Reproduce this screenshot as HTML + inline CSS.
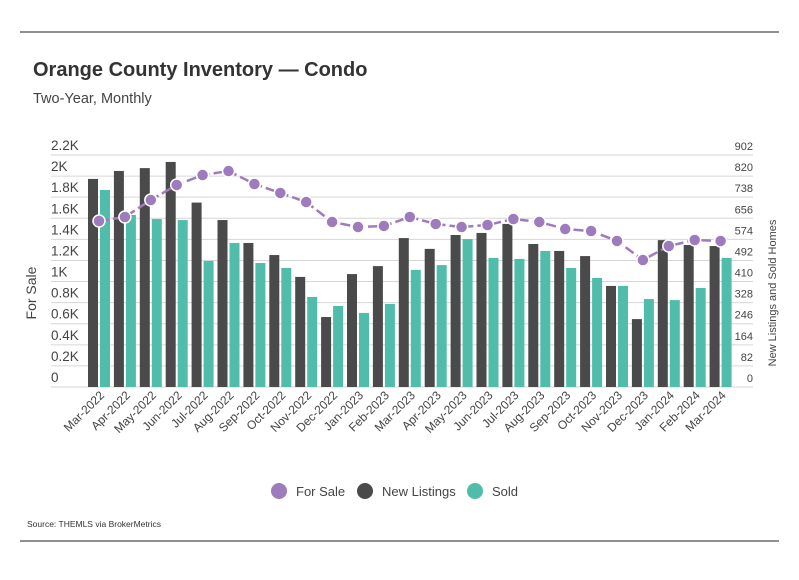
<!DOCTYPE html>
<html><head><meta charset="utf-8"><style>
body{margin:0;background:#fff;font-family:"Liberation Sans",sans-serif;}
svg text{font-family:"Liberation Sans",sans-serif;}
</style></head><body>
<svg width="799" height="575" xmlns="http://www.w3.org/2000/svg" id="chart">
<line x1="20" y1="32" x2="779" y2="32" stroke="#222" stroke-width="1"/>
<line x1="20" y1="541" x2="779" y2="541" stroke="#222" stroke-width="1"/>
<text x="33" y="76" font-size="20" font-weight="bold" fill="#333">Orange County Inventory — Condo</text>
<text x="33" y="103" font-size="14.5" fill="#444">Two-Year, Monthly</text>
<text transform="translate(36,293) rotate(-90)" text-anchor="middle" font-size="14" fill="#444">For Sale</text>
<text transform="translate(776,293) rotate(-90)" text-anchor="middle" font-size="11" fill="#444">New Listings and Sold Homes</text>
<g id="grid"></g><g id="bars"></g><g id="line"></g><g id="xlabels"></g>
<g>
<circle cx="279" cy="491" r="8" fill="#9e7bbd"/>
<text x="296" y="496" font-size="13" fill="#444">For Sale</text>
<circle cx="365" cy="491" r="8" fill="#4a4a4a"/>
<text x="382" y="496" font-size="13" fill="#444">New Listings</text>
<circle cx="475" cy="491" r="8" fill="#4fbdaa"/>
<text x="492" y="496" font-size="13" fill="#444">Sold</text>
</g>
<text x="27" y="527" font-size="8.5" fill="#333">Source:  THEMLS via BrokerMetrics</text>
</svg>
<script>
const categories=["Mar-2022","Apr-2022","May-2022","Jun-2022","Jul-2022","Aug-2022","Sep-2022","Oct-2022","Nov-2022","Dec-2022","Jan-2023","Feb-2023","Mar-2023","Apr-2023","May-2023","Jun-2023","Jul-2023","Aug-2023","Sep-2023","Oct-2023","Nov-2023","Dec-2023","Jan-2024","Feb-2024","Mar-2024"];
const newListings=[809,840,851,875,717,649,560,513,428,272,439,470,579,537,591,599,634,556,529,509,393,264,571,552,548];
const sold=[766,669,653,649,490,560,482,463,350,315,288,323,455,474,575,502,498,529,463,424,393,342,338,385,502];
const forSale=[1574,1612,1773,1916,2010,2048,1925,1840,1754,1565,1517,1527,1612,1546,1517,1536,1593,1565,1498,1479,1385,1204,1337,1394,1385];
const leftTicks=["0","0.2K","0.4K","0.6K","0.8K","1K","1.2K","1.4K","1.6K","1.8K","2K","2.2K"];
const rightTicks=["0","82","164","246","328","410","492","574","656","738","820","902"];
const NS="http://www.w3.org/2000/svg";
const y0=387,yTop=155,leftMax=2200,rightMax=902;
const yL=v=>y0-(v/leftMax)*(y0-yTop);
const yR=v=>y0-(v/rightMax)*(y0-yTop);
const xC=i=>99+i*25.9;
function mk(tag,attrs,parent,txt){const e=document.createElementNS(NS,tag);for(const k in attrs)e.setAttribute(k,attrs[k]);if(txt!=null)e.textContent=txt;document.getElementById(parent).appendChild(e);return e;}
leftTicks.forEach((t,i)=>{
  const y=y0-i*(y0-yTop)/(leftTicks.length-1);
  const g=mk('line',{x1:51,x2:753,y1:y,y2:y,stroke:'#d6d6d6','stroke-width':1},'grid');
  
  
  const a=mk('text',{x:51,y:y-5,'font-size':13.5,fill:'#444'},'grid',t);
  
  
  const b=mk('text',{x:753,y:y-5,'font-size':11,fill:'#444','text-anchor':'end'},'grid',rightTicks[i]);
  
  
});
categories.forEach((c,i)=>{
  const x=xC(i);
  const r1=mk('rect',{x:x-11,y:yR(newListings[i]),width:10,height:y0-yR(newListings[i]),fill:'#4a4a4a'},'bars');
  
  
  const r2=mk('rect',{x:x+1,y:yR(sold[i]),width:10,height:y0-yR(sold[i]),fill:'#4fbdaa'},'bars');
  
  
  const t=mk('text',{transform:`translate(${x+6},396) rotate(-45)`,'text-anchor':'end','font-size':12,fill:'#444'},'xlabels',c);
  
  
});
const pl=mk('polyline',{points:forSale.map((v,i)=>xC(i)+','+yL(v)).join(' '),fill:'none',stroke:'#9e7bbd','stroke-width':2.5,'stroke-dasharray':'10 4'},'line');


forSale.forEach((v,i)=>{
  const d=mk('circle',{cx:xC(i),cy:yL(v),r:6,fill:'#9e7bbd',stroke:'#fff','stroke-width':1.5},'line');
  
  
});
</script>
</body></html>
